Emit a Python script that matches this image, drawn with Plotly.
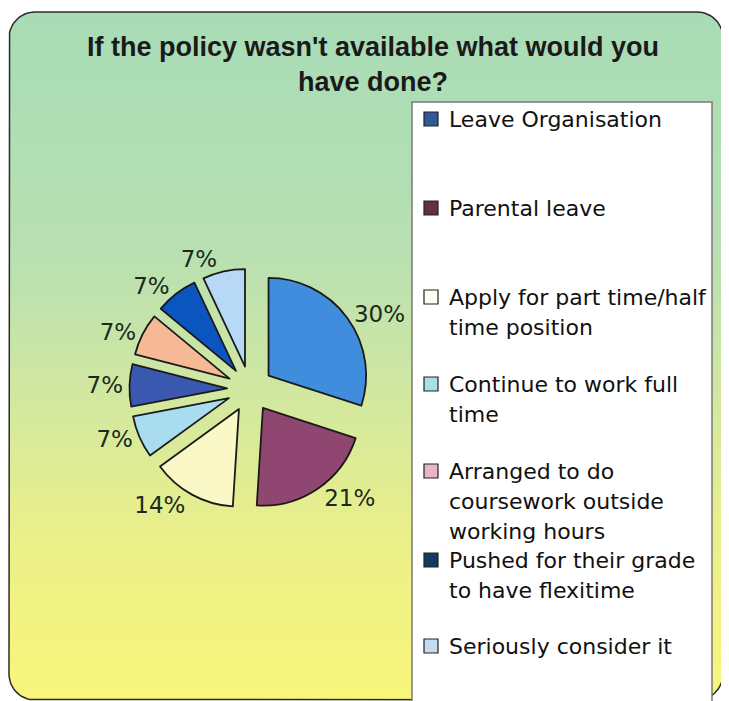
import numpy as np
import plotly.graph_objects as go

W, H = 729, 701
OFF = 8  # page body margin compensation

# ---------------- data ----------------
slice_values = [30, 21, 14, 7, 7, 7, 7, 7]
slice_colors = ["#3f8ddc", "#8f4670", "#fbf8c8", "#aadcef",
                "#3a58b0", "#f6b895", "#0b55c0", "#b7d9f6"]

legend_labels = [
    "Leave Organisation",
    "Parental leave",
    "Apply for part time/half<br>time position",
    "Continue to work full<br>time",
    "Arranged to do<br>coursework outside<br>working hours",
    "Pushed for their grade<br>to have flexitime",
    "Seriously consider it",
]
legend_colors = ["#2f5a9a", "#60304a", "#fffff0", "#a6e0e0",
                 "#e8b4c8", "#163a5e", "#c4dcf2"]
legend_first_line_y = [119, 208, 297, 384, 471, 560, 646]

title_text = "If the policy wasn't available what would you<br>have done?"

# ---------------- helpers ----------------
def X(px):
    return px - OFF


def Y(py):
    return H - (py - OFF)


def rounded_rect(x0, y0, x1, y1, r, n=16):
    pts = []
    corners = [
        (x1 - r, y0 + r, -90, 0),
        (x1 - r, y1 - r, 0, 90),
        (x0 + r, y1 - r, 90, 180),
        (x0 + r, y0 + r, 180, 270),
    ]
    for cx_, cy_, a0, a1 in corners:
        for a in np.linspace(np.radians(a0), np.radians(a1), n):
            pts.append((cx_ + r * np.cos(a), cy_ + r * np.sin(a)))
    pts.append(pts[0])
    xs = [X(p[0]) for p in pts]
    ys = [Y(p[1]) for p in pts]
    return xs, ys


fig = go.Figure()

# background panel with vertical gradient
bx, by = rounded_rect(9, 12, 723, 700, 26)
fig.add_trace(go.Scatter(
    x=bx, y=by, mode="lines", fill="toself",
    fillgradient=dict(
        type="vertical",
        colorscale=[[0, "#f8f67a"], [0.22, "#ecf088"], [0.44, "#d2e8a0"],
                    [0.65, "#b8e0b2"], [1, "#a8dcb6"]],
    ),
    line=dict(color="#2b2b2b", width=1.5),
    hoverinfo="skip", showlegend=False,
))

# pie
cx, cy, half = 250, 389, 120.5
fig.add_trace(go.Pie(
    values=slice_values,
    sort=False,
    direction="clockwise",
    rotation=0,
    pull=0.235,
    marker=dict(colors=slice_colors, line=dict(color="#1a1a1a", width=1.8)),
    textposition="outside",
    texttemplate="%{value}%",
    textfont=dict(family="DejaVu Sans", size=23, color="#1b2a1b"),
    domain=dict(x=[X(cx - half) / W, X(cx + half) / W],
                y=[Y(cy + half) / H, Y(cy - half) / H]),
    showlegend=False,
    hoverinfo="percent",
))

shapes = []
annotations = []

# legend box
shapes.append(dict(type="rect", xref="x", yref="y", x0=X(412), x1=X(712),
                   y0=Y(102), y1=Y(712), fillcolor="white",
                   line=dict(color="#7a7a7a", width=1.5), layer="above"))

line_h = 30
for label, col, fy in zip(legend_labels, legend_colors, legend_first_line_y):
    shapes.append(dict(type="rect", xref="x", yref="y",
                       x0=X(424), x1=X(438), y0=Y(fy - 7), y1=Y(fy + 7),
                       fillcolor=col, line=dict(color="#222222", width=1.2),
                       layer="above"))
    for k, ln in enumerate(label.split("<br>")):
        annotations.append(dict(
            x=X(447), y=Y(fy + k * line_h), xref="x", yref="y",
            text=ln, showarrow=False, xanchor="left", yanchor="middle",
            font=dict(family="DejaVu Sans", size=22, color="#111111"),
        ))

# title
annotations.append(dict(
    x=X(373), y=Y(64), xref="x", yref="y", text=title_text, showarrow=False,
    xanchor="center", yanchor="middle",
    font=dict(family="Liberation Sans", size=27, color="#1a1a1a", weight="bold"),
))

fig.update_layout(
    width=W, height=H,
    margin=dict(l=0, r=0, t=0, b=0),
    paper_bgcolor="white", plot_bgcolor="rgba(0,0,0,0)",
    xaxis=dict(range=[0, W], domain=[0, 1], visible=False, fixedrange=True),
    yaxis=dict(range=[0, H], domain=[0, 1], visible=False, fixedrange=True),
    shapes=shapes, annotations=annotations,
    showlegend=False,
)

fig.write_html("out.html")
